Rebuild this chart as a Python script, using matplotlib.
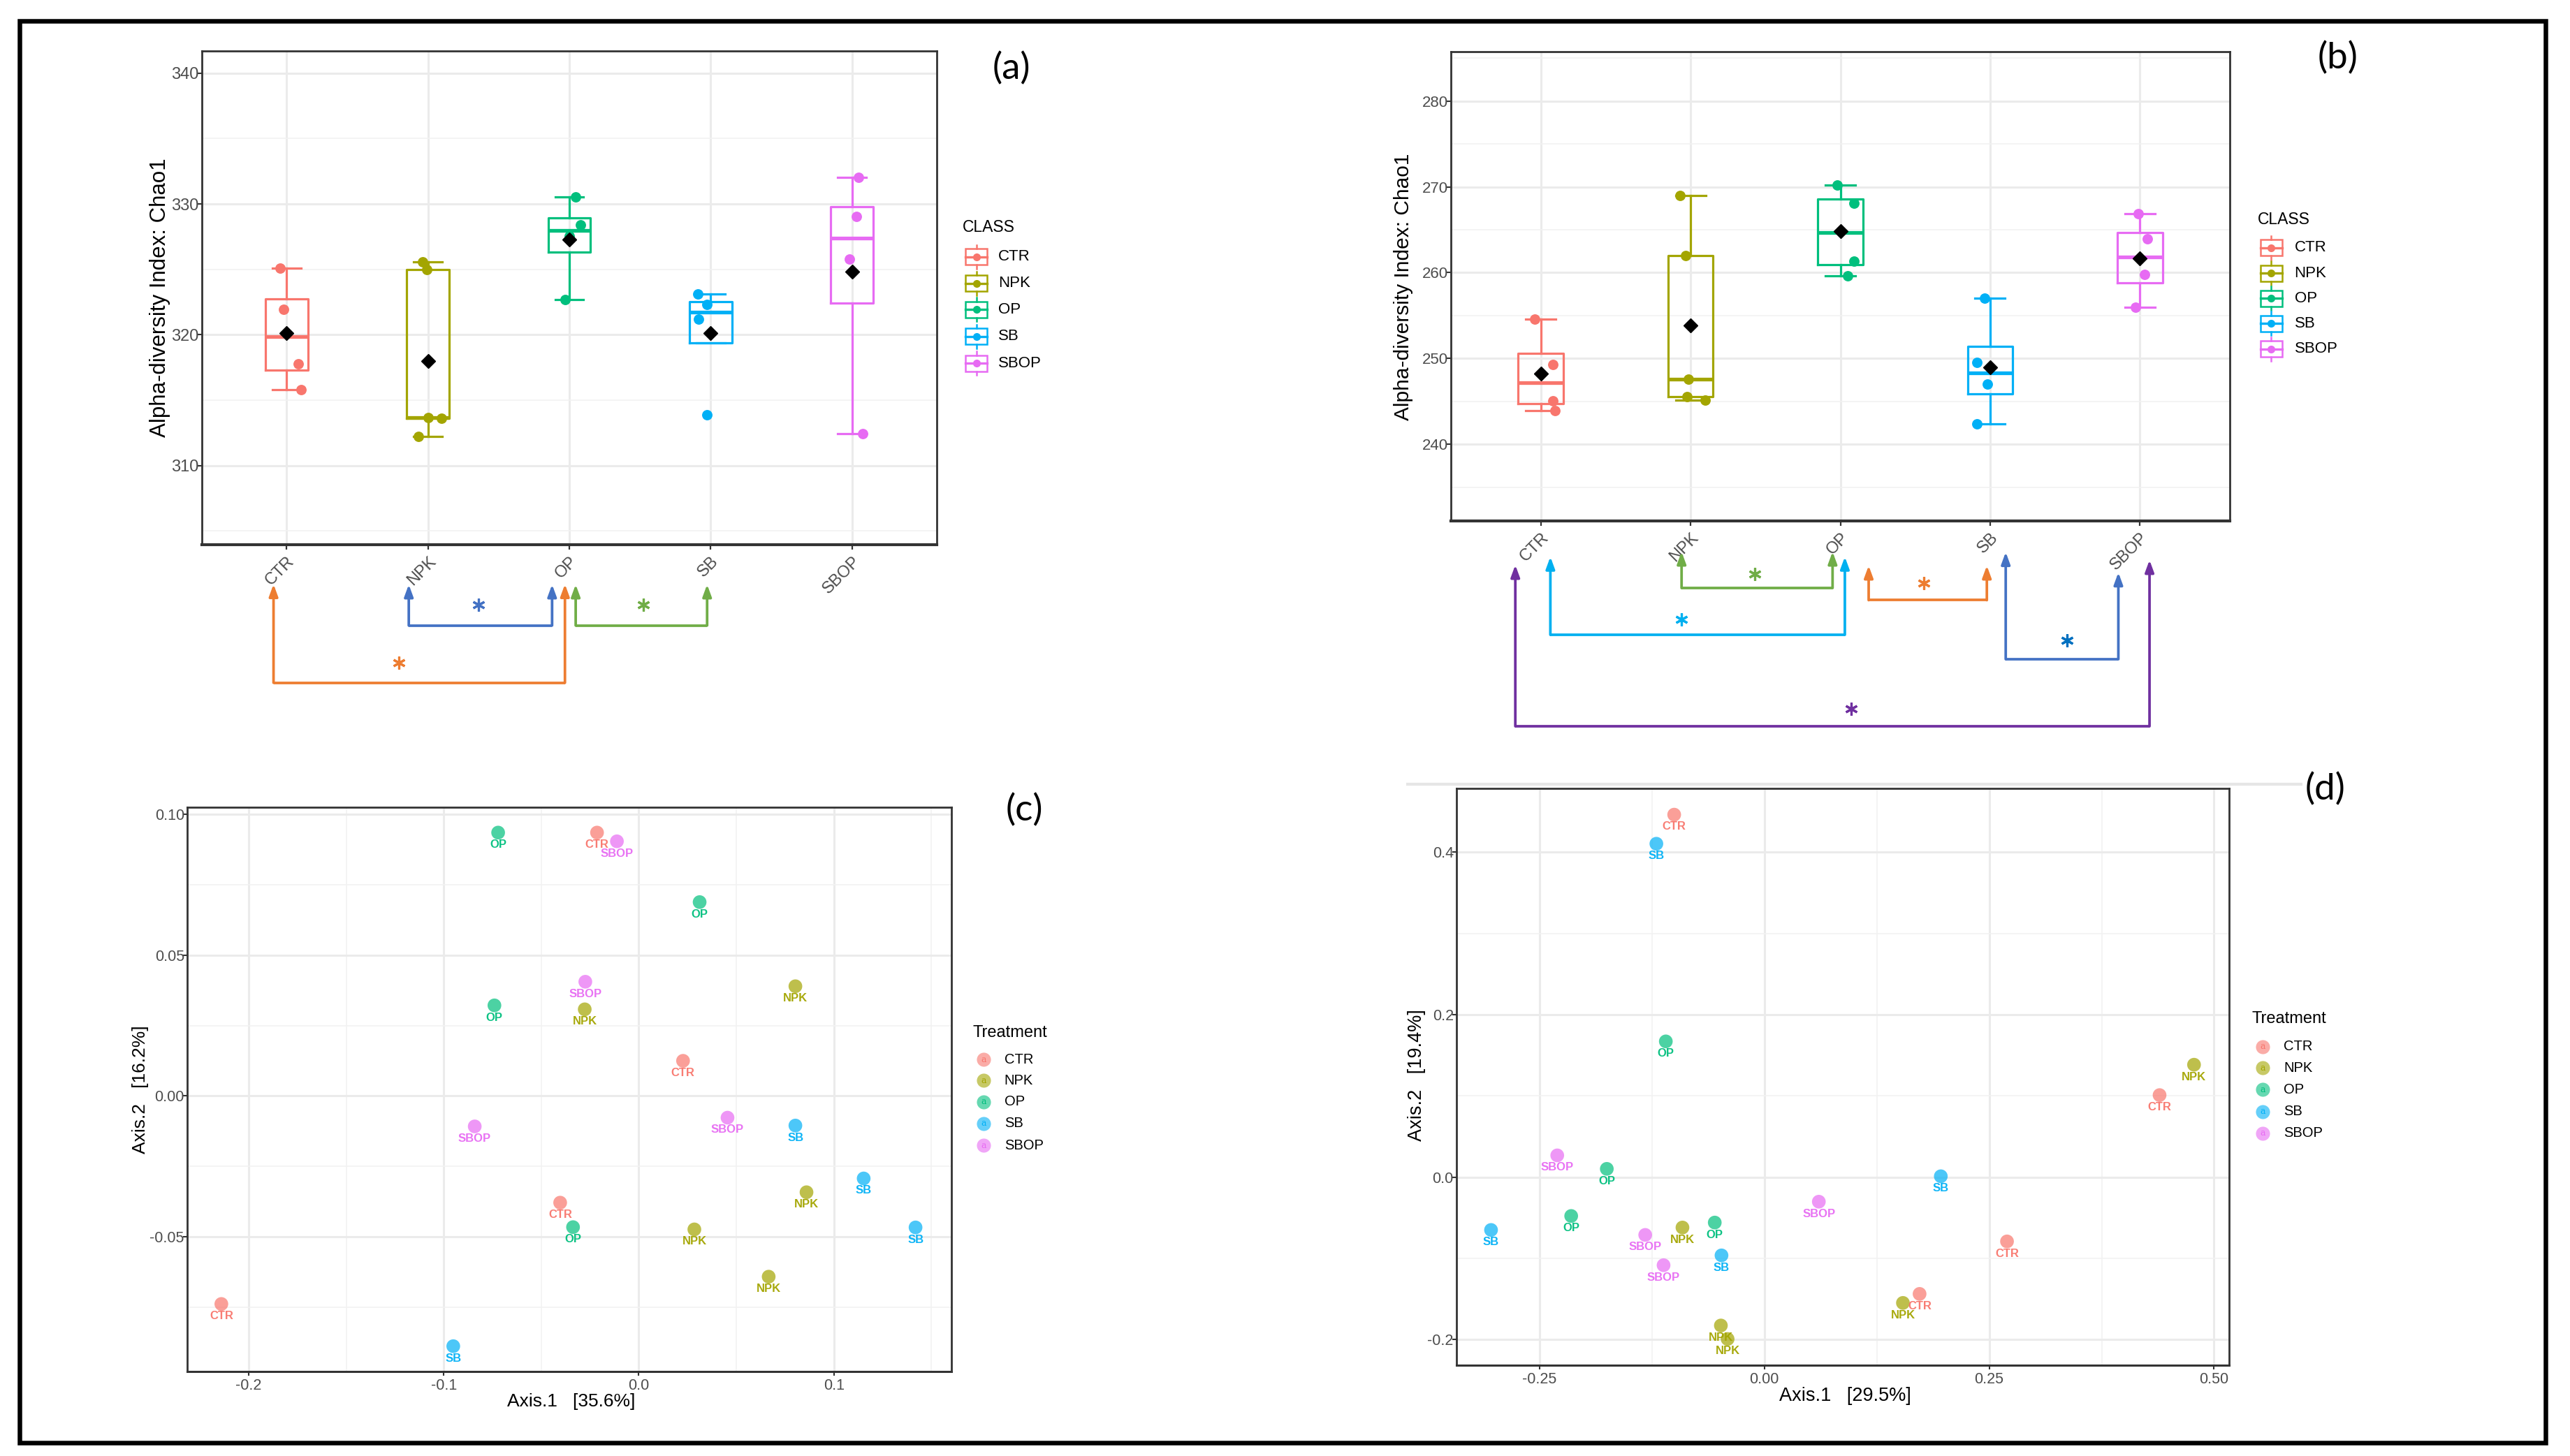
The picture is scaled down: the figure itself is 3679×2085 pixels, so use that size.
import numpy as np
import matplotlib
matplotlib.use("Agg")
import matplotlib.pyplot as plt
from matplotlib.patches import Rectangle

plt.rcParams['font.family'] = ['Liberation Sans', 'DejaVu Sans']

# ---------------- data ----------------
classes = ["CTR", "NPK", "OP", "SB", "SBOP"]
colors = {"CTR": "#F8766D", "NPK": "#A3A500", "OP": "#00BF7D", "SB": "#00B0F6", "SBOP": "#E76BF3"}

# (a) Chao1 values per class
chao_a_CTR = [325.1, 321.94, 317.78, 315.8]
chao_a_NPK = [325.55, 324.98, 313.6, 313.65, 312.22]
chao_a_OP = [330.52, 328.38, 327.56, 322.68]
chao_a_SB = [323.12, 322.3, 321.2, 313.9]
chao_a_SBOP = [332.03, 329.02, 325.78, 312.42]
# jitter offsets
jit_a_CTR = [-0.045, -0.02, 0.08, 0.1]
jit_a_NPK = [-0.037, -0.01, 0.094, 0.0, -0.07]
jit_a_OP = [0.045, 0.08, 0.0, -0.03]
jit_a_SB = [-0.09, -0.025, -0.086, -0.025]
jit_a_SBOP = [0.045, 0.03, -0.016, 0.078]

# (b) Chao1 values per class
chao_b_CTR = [254.59, 249.29, 245.05, 243.92]
chao_b_NPK = [269.02, 262.0, 247.58, 245.56, 245.17]
chao_b_OP = [270.2, 268.06, 261.32, 259.61]
chao_b_SB = [257.0, 249.57, 247.0, 242.37]
chao_b_SBOP = [266.88, 263.93, 259.8, 255.99]
jit_b_CTR = [-0.04, 0.08, 0.08, 0.094]
jit_b_NPK = [-0.071, -0.031, -0.013, -0.022, 0.098]
jit_b_OP = [-0.022, 0.089, 0.089, 0.049]
jit_b_SB = [-0.036, -0.089, -0.018, -0.089]
jit_b_SBOP = [-0.009, 0.049, 0.031, -0.031]

# significance comparisons (group pairs)
sig_a = [("NPK", "OP"), ("OP", "SB"), ("CTR", "OP")]
sig_b = [("NPK", "OP"), ("CTR", "OP"), ("OP", "SB"), ("SB", "SBOP"), ("CTR", "SBOP")]

# (c) PCoA
pc_c_group = ["OP", "OP", "OP", "OP",
              "CTR", "CTR", "CTR", "CTR",
              "SBOP", "SBOP", "SBOP", "SBOP",
              "NPK", "NPK", "NPK", "NPK", "NPK",
              "SB", "SB", "SB", "SB"]
pc_c_x = [-0.0721, 0.0312, -0.0740, -0.0337,
          -0.0214, 0.0227, -0.0403, -0.2140,
          -0.0112, -0.0274, -0.0841, 0.0455,
          0.0803, -0.0277, 0.0860, 0.0285, 0.0666,
          0.0803, 0.1153, 0.1419, -0.0951]
pc_c_y = [0.0936, 0.0689, 0.0322, -0.0466,
          0.0936, 0.0125, -0.0379, -0.0739,
          0.0905, 0.0406, -0.0108, -0.0077,
          0.0390, 0.0308, -0.0342, -0.0474, -0.0642,
          -0.0105, -0.0293, -0.0467, -0.0889]

# (d) PCoA
pc_d_group = ["CTR", "CTR", "CTR", "CTR",
              "SB", "SB", "SB", "SB",
              "OP", "OP", "OP", "OP",
              "NPK", "NPK", "NPK", "NPK", "NPK",
              "SBOP", "SBOP", "SBOP", "SBOP"]
pc_d_x = [-0.1002, 0.4394, 0.2698, 0.1726,
          -0.1200, -0.3038, 0.1962, -0.0476,
          -0.1095, -0.1751, -0.2147, -0.0551,
          0.4777, -0.0910, 0.1541, -0.0483, -0.0408,
          -0.2302, -0.1324, -0.1120, 0.0606]
pc_d_y = [0.4461, 0.1009, -0.0792, -0.1438,
          0.4103, -0.0651, 0.0010, -0.0964,
          0.1670, 0.0101, -0.0479, -0.0560,
          0.1383, -0.0621, -0.1549, -0.1827, -0.1993,
          0.0267, -0.0712, -0.1085, -0.0303]

# ---------------- figure ----------------
W, H = 3679, 2085
fig = plt.figure(figsize=(W / 100, H / 100), dpi=100)
PT = 0.72  # points per pixel at dpi 100


def px_axes(l, t, r, b, z=1):
    return fig.add_axes([l / W, 1 - b / H, (r - l) / W, (b - t) / H], zorder=z)


GRID = "#EBEBEB"
TICKC = "#4D4D4D"


def style_axes(ax, bottom_lw=2.2):
    for s in ax.spines.values():
        s.set_color("#333333")
        s.set_linewidth(2.0)
    ax.spines['bottom'].set_linewidth(bottom_lw)
    ax.set_axisbelow(True)
    ax.grid(which='major', color=GRID, lw=2.2)
    ax.grid(which='minor', color="#F2F2F2", lw=1.2)
    ax.tick_params(which='minor', length=0)


def box_panel(ax, vals, jits, ylim, yticks, yminor, ysize):
    data = [vals[c] for c in classes]
    bp = ax.boxplot(data, positions=range(1, 6), widths=0.3, capwidths=0.2,
                    whis=1.5, showfliers=False, zorder=2)
    for i, c in enumerate(classes):
        col = colors[c]
        bp['boxes'][i].set(color=col, lw=2.3)
        bp['medians'][i].set(color=col, lw=3.8)
        for k in (2 * i, 2 * i + 1):
            bp['whiskers'][k].set(color=col, lw=2.3)
            bp['caps'][k].set(color=col, lw=2.3)
        ax.scatter(i + 1 + np.array(jits[c]), vals[c], s=115, color=col, zorder=3,
                   linewidths=0)
        ax.plot(i + 1, np.mean(vals[c]), marker='D', color='black', ms=10.5, zorder=4)
    ax.set_xlim(0.4, 5.6)
    ax.set_ylim(*ylim)
    ax.set_yticks(yticks)
    ax.set_yticks(yminor, minor=True)
    ax.set_xticks(range(1, 6))
    ax.set_xticklabels(classes, rotation=45, ha='right', va='top', rotation_mode='anchor')
    style_axes(ax, bottom_lw=3.0)
    ax.tick_params(axis='y', which='major', length=4, width=1.5, color='#333333',
                   labelcolor=TICKC, labelsize=ysize, pad=-1)
    ax.tick_params(axis='x', which='major', length=5, width=1.6, color='#333333',
                   labelcolor=TICKC, labelsize=17, pad=4)


def brackets(ax, comps, geom):
    tr = ax.get_xaxis_transform()
    for (g1, g2), (dx1, dx2, yt1, yt2, ybar, sx, sy, col, scol) in zip(comps, geom):
        x1 = classes.index(g1) + 1 + dx1
        x2 = classes.index(g2) + 1 + dx2
        ax.plot([x1, x2], [ybar, ybar], color=col, lw=2.7, transform=tr, clip_on=False,
                solid_capstyle='butt')
        for xx, yt in ((x1, yt1), (x2, yt2)):
            ax.annotate('', xy=(xx, yt), xytext=(xx, ybar), xycoords=tr, textcoords=tr,
                        arrowprops=dict(arrowstyle='-|>,head_length=0.6,head_width=0.22',
                                        color=col, lw=2.7, shrinkA=0, shrinkB=0,
                                        mutation_scale=17), annotation_clip=False)
        ax.plot([sx], [sy], marker=(6, 2, 0), ms=13, mew=2.3, color=scol,
                transform=tr, clip_on=False)


# ---------- panel (a) ----------
axA = px_axes(289, 73, 1341, 780)
vals_a = {"CTR": chao_a_CTR, "NPK": chao_a_NPK, "OP": chao_a_OP, "SB": chao_a_SB, "SBOP": chao_a_SBOP}
jits_a = {"CTR": jit_a_CTR, "NPK": jit_a_NPK, "OP": jit_a_OP, "SB": jit_a_SB, "SBOP": jit_a_SBOP}
box_panel(axA, vals_a, jits_a, (303.95, 341.7), [310, 320, 330, 340], [305, 315, 325, 335], 17)
BLUE, GREEN, ORANGE, PURPLE, LBLUE, DBLUE = "#4472C4", "#70AD47", "#ED7D31", "#7030A0", "#00B0F0", "#0070C0"
geom_a = [(-0.136, -0.122, -0.0806, -0.0806, -0.1637, 2.358, -0.121, BLUE, BLUE),
          (0.045, -0.025, -0.0806, -0.0806, -0.1637, 3.524, -0.121, GREEN, GREEN),
          (-0.093, -0.031, -0.080, -0.080, -0.2797, 1.793, -0.239, ORANGE, ORANGE)]
brackets(axA, sig_a, geom_a)

# ---------- panel (b) ----------
axB = px_axes(2077, 74, 3192, 746)
vals_b = {"CTR": chao_b_CTR, "NPK": chao_b_NPK, "OP": chao_b_OP, "SB": chao_b_SB, "SBOP": chao_b_SBOP}
jits_b = {"CTR": jit_b_CTR, "NPK": jit_b_NPK, "OP": jit_b_OP, "SB": jit_b_SB, "SBOP": jit_b_SBOP}
box_panel(axB, vals_b, jits_b, (231.07, 285.75), [240, 250, 260, 270, 280],
          [235, 245, 255, 265, 275, 285], 16)
geom_b = [(-0.06, -0.052, -0.0655, -0.0655, -0.1429, 2.431, -0.1124, GREEN, GREEN),
          (0.064, 0.03, -0.0763, -0.0763, -0.2426, 1.94, -0.2092, LBLUE, LBLUE),
          (0.189, -0.022, -0.0952, -0.0952, -0.1688, 3.556, -0.1327, ORANGE, ORANGE),
          (0.104, -0.144, -0.0664, -0.1098, -0.2946, 4.515, -0.2552, BLUE, DBLUE),
          (-0.17, 0.064, -0.0938, -0.0833, -0.4375, 3.07, -0.4009, PURPLE, PURPLE)]
brackets(axB, sig_b, geom_b)


# ---------- PCoA panels ----------
def pcoa_panel(ax, gx, gy, groups, xlim, ylim, xt, xminor, yt, yminor, xfmt, yfmt):
    cols = [colors[g] for g in groups]
    ax.scatter(gx, gy, s=200, c=cols, alpha=0.7, linewidths=0, zorder=3)
    for x, y, g in zip(gx, gy, groups):
        ax.annotate(g, (x, y), xytext=(0, -12.5), textcoords='offset points',
                    ha='center', va='center', fontsize=12, fontweight='bold',
                    color=colors[g], alpha=0.95, zorder=4)
    ax.set_xlim(*xlim)
    ax.set_ylim(*ylim)
    ax.set_xticks(xt)
    ax.set_xticklabels([xfmt.format(v) for v in xt])
    ax.set_xticks(xminor, minor=True)
    ax.set_yticks(yt)
    ax.set_yticklabels([yfmt.format(v) for v in yt])
    ax.set_yticks(yminor, minor=True)
    style_axes(ax)
    ax.tick_params(axis='both', which='major', length=4, width=1.5, color='#333333',
                   labelcolor=TICKC, labelsize=15.5)
    ax.tick_params(axis='y', which='major', pad=-1)
    ax.tick_params(axis='x', which='major', pad=3)


axC = px_axes(268, 1156, 1362, 1964)
pcoa_panel(axC, pc_c_x, pc_c_y, pc_c_group, (-0.2315, 0.1603), (-0.0979, 0.1026),
           [-0.2, -0.1, 0.0, 0.1], [-0.15, -0.05, 0.05, 0.15],
           [-0.05, 0.0, 0.05, 0.10], [-0.075, -0.025, 0.025, 0.075], "{:.1f}", "{:.2f}")

axD = px_axes(2085, 1129, 3191, 1955)
pcoa_panel(axD, pc_d_x, pc_d_y, pc_d_group, (-0.3422, 0.5167), (-0.2316, 0.4784),
           [-0.25, 0.0, 0.25, 0.50], [-0.125, 0.125, 0.375],
           [-0.2, 0.0, 0.2, 0.4], [-0.1, 0.1, 0.3], "{:.2f}", "{:.1f}")

# ---------- overlay (pixel coordinates) ----------
ov = fig.add_axes([0, 0, 1, 1], zorder=10)
ov.set_xlim(0, W)
ov.set_ylim(H, 0)
ov.axis('off')

# axis titles
ov.text(228.8, 426.5, "Alpha-diversity Index: Chao1", rotation=90, ha='center', va='center',
        fontsize=22.5)
ov.text(2009.3, 411, "Alpha-diversity Index: Chao1", rotation=90, ha='center', va='center',
        fontsize=21.5)
ov.text(201, 1560, "Axis.2   [16.2%]", rotation=90, ha='center', va='center', fontsize=19)
ov.text(817.5, 2007, "Axis.1   [35.6%]", ha='center', va='center', fontsize=19)
ov.text(2028.3, 1540, "Axis.2   [19.4%]", rotation=90, ha='center', va='center', fontsize=19.5)
ov.text(2641.7, 1999, "Axis.1   [29.5%]", ha='center', va='center', fontsize=19.5)


def box_legend(tx, ty, kx, lx, rows, fs):
    ov.text(tx, ty, "CLASS", ha='left', va='center', fontsize=fs + 0.5)
    for c, y in zip(classes, rows):
        col = colors[c]
        ov.add_patch(Rectangle((kx - 15.5, y - 11.5), 31, 23, fill=True, facecolor='white',
                               edgecolor=col, lw=1.8))
        ov.plot([kx, kx], [y - 17, y - 11.5], color=col, lw=1.8)
        ov.plot([kx, kx], [y + 11.5, y + 17], color=col, lw=1.8)
        ov.plot([kx - 15.5, kx + 15.5], [y, y], color=col, lw=2.4)
        ov.plot(kx, y, marker='o', ms=8, color=col, mew=0)
        ov.text(lx, y, c, ha='left', va='center', fontsize=fs)


box_legend(1378.3, 325, 1397.5, 1429.3, [367.7, 405.7, 443.3, 481.7, 520.0], 16)
box_legend(3232, 314.5, 3251, 3284.5, [354.7, 391.1, 427.4, 463.3, 499.7], 16)


def pt_legend(tx, ty, kx, lx, rows):
    ov.text(tx, ty, "Treatment", ha='left', va='center', fontsize=17)
    for c, y in zip(classes, rows):
        col = colors[c]
        ov.plot(kx, y, marker='o', ms=14.5, color=col, alpha=0.6, mew=0)
        ov.text(kx, y, "a", ha='center', va='center', fontsize=9, color=col,
                family=['DejaVu Serif'])
        ov.text(lx, y, c, ha='left', va='center', fontsize=14.5)


pt_legend(1392.7, 1479.3, 1408.3, 1437.7, [1517.3, 1547.3, 1577.7, 1608.7, 1640.0])
pt_legend(3223.3, 1459.3, 3239.3, 3269.3, [1499.0, 1529.3, 1560.0, 1591.7, 1622.7])

# panel letters
for lab, x, y in (("(a)", 1448, 98), ("(b)", 3347, 83), ("(c)", 1466, 1160), ("(d)", 3329, 1130)):
    ov.text(x, y, lab, ha='center', va='center', fontsize=38, family=['Lato', 'DejaVu Sans'])

# faint separator line near (d)
ov.plot([2013, 3296], [1123, 1123], color="#E6E6E6", lw=3.0, solid_capstyle='butt')

# outer frame
ov.add_patch(Rectangle((28.3, 30), 3644 - 28.3, 2066 - 30, fill=False, edgecolor='black',
                       lw=6.5 * PT))

fig.savefig("out.png", dpi=100, facecolor='white')
